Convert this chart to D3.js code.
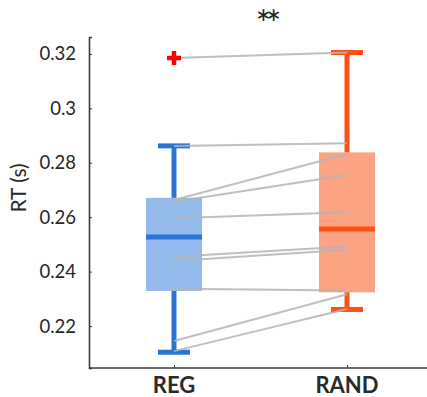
<!DOCTYPE html>
<html>
<head>
<meta charset="utf-8">
<script src="https://cdn.jsdelivr.net/npm/d3@7"></script>
<style>
  body { margin: 0; background: #fff; }
  svg { display: block; font-family: Lato, "Open Sans", sans-serif; }
</style>
</head>
<body>
<svg width="427" height="397"></svg>
<script>
const width = 427;
const height = 397;

// groups and box stats
const groups = ["REG", "RAND"];
const q1 = [0.2329, 0.2324];
const median = [0.2527, 0.2557];
const q3 = [0.2671, 0.2838];
const whiskerLo = [0.2104, 0.2261];
const whiskerHi = [0.2862, 0.3205];
const outliers = [[0.3185], []];

// paired subject values (REG -> RAND)
const regRT = [0.3185, 0.2862, 0.2663, 0.2657, 0.2596, 0.2455, 0.2439, 0.2337, 0.2145, 0.2108];
const randRT = [0.3205, 0.2872, 0.2832, 0.2755, 0.2618, 0.2492, 0.2480, 0.2331, 0.2317, 0.2263];

const yTicks = [0.22, 0.24, 0.26, 0.28, 0.3, 0.32];

const strokeColor = ["#2a74d6", "#ff5014"];
const fillColor = ["#94b9eb", "#fba383"];

const margin = { top: 37, right: 0, bottom: 29, left: 89 };

const svg = d3.select("svg");

// group centres
const x = d3.scalePoint()
  .domain(groups)
  .range([174, 347]);

const y = d3.scaleLinear()
  .domain([0.2046, 0.3262])
  .range([height - margin.bottom, margin.top]);

// axes
const yAxis = svg.append("g")
  .attr("transform", `translate(${margin.left},0)`)
  .call(d3.axisLeft(y).tickValues(yTicks).tickSize(-3).tickPadding(13)
    .tickFormat(d => String(+d.toFixed(2))));
yAxis.select(".domain").attr("stroke", "#3a3a3a").attr("stroke-width", 1.6);
yAxis.selectAll(".tick line").attr("stroke", "#3a3a3a");
yAxis.selectAll(".tick text")
  .attr("font-size", 18.5)
  .attr("fill", "#262626")
  .attr("font-family", "Lato, sans-serif");

const xAxis = svg.append("g")
  .attr("transform", `translate(0,${height - margin.bottom})`)
  .call(d3.axisBottom(x).tickSize(-3).tickFormat(""));
xAxis.select(".domain").remove();
xAxis.selectAll(".tick line").attr("stroke", "#3a3a3a");

svg.append("line")
  .attr("x1", margin.left)
  .attr("x2", width)
  .attr("y1", height - margin.bottom)
  .attr("y2", height - margin.bottom)
  .attr("stroke", "#3a3a3a")
  .attr("stroke-width", 1.6);

svg.selectAll(".xlab")
  .data(groups)
  .join("text")
  .attr("class", "xlab")
  .attr("x", d => x(d))
  .attr("y", 393)
  .attr("text-anchor", "middle")
  .attr("font-size", 22)
  .attr("font-weight", "bold")
  .attr("fill", "#2a2a2a")
  .text(d => d);

svg.append("text")
  .attr("transform", `translate(26,${(y(0.32) + y(0.22)) / 2 - 2}) rotate(-90)`)
  .attr("text-anchor", "middle")
  .attr("font-size", 21)
  .attr("fill", "#262626")
  .text("RT (s)");

// significance stars
svg.append("text")
  .attr("x", 266)
  .attr("y", 37)
  .attr("text-anchor", "middle")
  .attr("font-size", 36)
  .attr("letter-spacing", -5)
  .attr("fill", "#222")
  .text("**");

// boxes
const boxW = 56;
const box = svg.append("g");
groups.forEach((g, i) => {
  const cx = x(g);
  box.append("rect")
    .attr("x", cx - boxW / 2)
    .attr("width", boxW)
    .attr("y", y(q3[i]))
    .attr("height", y(q1[i]) - y(q3[i]))
    .attr("fill", fillColor[i]);
  // whisker lines
  box.append("line")
    .attr("x1", cx).attr("x2", cx)
    .attr("y1", y(q3[i])).attr("y2", y(whiskerHi[i]))
    .attr("stroke", strokeColor[i]).attr("stroke-width", 5);
  box.append("line")
    .attr("x1", cx).attr("x2", cx)
    .attr("y1", y(q1[i])).attr("y2", y(whiskerLo[i]))
    .attr("stroke", strokeColor[i]).attr("stroke-width", 5);
  [whiskerHi[i], whiskerLo[i]].forEach(v => {
    box.append("line")
      .attr("x1", cx - 16).attr("x2", cx + 16)
      .attr("y1", y(v)).attr("y2", y(v))
      .attr("stroke", strokeColor[i]).attr("stroke-width", 5);
  });
});

// paired lines
svg.append("g")
  .selectAll("line")
  .data(regRT.map((d, i) => [d, randRT[i]]))
  .join("line")
  .attr("x1", x(groups[0]))
  .attr("x2", x(groups[1]))
  .attr("y1", d => y(d[0]))
  .attr("y2", d => y(d[1]))
  .attr("stroke", "#b4b4b4")
  .attr("stroke-opacity", 0.85)
  .attr("stroke-width", 2);

// medians on top
groups.forEach((g, i) => {
  svg.append("line")
    .attr("x1", x(g) - boxW / 2).attr("x2", x(g) + boxW / 2)
    .attr("y1", y(median[i])).attr("y2", y(median[i]))
    .attr("stroke", strokeColor[i]).attr("stroke-width", 5);
});

// outliers
outliers.forEach((arr, i) => {
  arr.forEach(v => {
    const cx = x(groups[i]), cy = y(v);
    svg.append("path")
      .attr("d", `M${cx - 7},${cy}H${cx + 7}M${cx},${cy - 7}V${cy + 7}`)
      .attr("stroke", "#ff0000")
      .attr("stroke-width", 4.5)
      .attr("fill", "none");
  });
});
</script>
</body>
</html>
